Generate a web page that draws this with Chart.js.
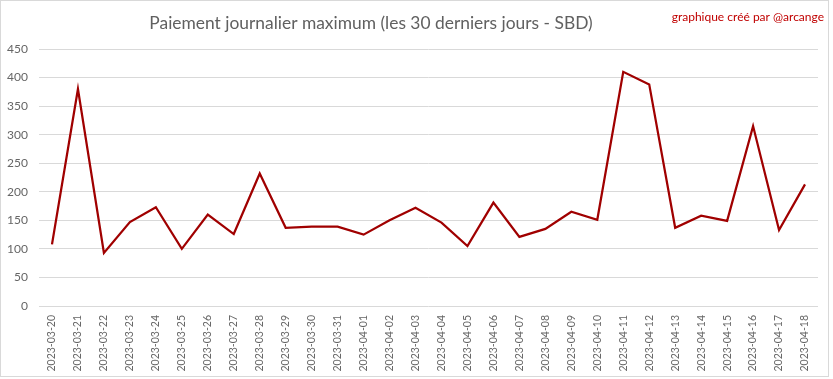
<!DOCTYPE html>
<html>
<head>
<meta charset="utf-8">
<script src="https://cdn.jsdelivr.net/npm/chart.js@4/dist/chart.umd.min.js"></script>
<style>
html,body{margin:0;padding:0;background:#fff;}
#wrap{width:833px;height:379px;position:relative;}
</style>
</head>
<body>
<div id="wrap"><canvas id="c" width="833" height="379"></canvas></div>
<script>
const categories = ["2023-03-20","2023-03-21","2023-03-22","2023-03-23","2023-03-24","2023-03-25","2023-03-26","2023-03-27","2023-03-28","2023-03-29","2023-03-30","2023-03-31","2023-04-01","2023-04-02","2023-04-03","2023-04-04","2023-04-05","2023-04-06","2023-04-07","2023-04-08","2023-04-09","2023-04-10","2023-04-11","2023-04-12","2023-04-13","2023-04-14","2023-04-15","2023-04-16","2023-04-17","2023-04-18"];
const maxPayout = [108,380,93,147,173,100,160,126,232,137,139,139,125,150,172,146,105,181,121,135,165,151,410,388,137,158,149,315,133,213];
const yTicks = [0,50,100,150,200,250,300,350,400,450];
const titleText = "Paiement journalier maximum (les 30 derniers jours - SBD)";
const creditText = "graphique créé par @arcange";

const FONT = "Lato, 'Open Sans', sans-serif";

const decor = {
  id: 'decor',
  beforeDraw(chart) {
    const ctx = chart.ctx;
    ctx.save();
    ctx.fillStyle = '#ffffff';
    ctx.fillRect(0, 0, chart.width, chart.height);
    ctx.restore();
  },
  afterDraw(chart) {
    const ctx = chart.ctx;
    ctx.save();
    ctx.strokeStyle = '#d9d9d9';
    ctx.lineWidth = 1;
    ctx.strokeRect(0.5, 0.5, 828, 376);
    ctx.fillStyle = '#606060';
    ctx.font = "17.4px " + FONT;
    ctx.textAlign = 'center';
    ctx.textBaseline = 'middle';
    ctx.fillText(titleText, 371, 23);
    ctx.fillStyle = '#c00000';
    ctx.font = "12px " + FONT;
    ctx.textAlign = 'right';
    ctx.fillText(creditText, 824, 17);
    ctx.restore();
  }
};

new Chart(document.getElementById('c'), {
  type: 'line',
  data: {
    labels: categories,
    datasets: [{
      data: maxPayout,
      borderColor: '#a00000',
      borderWidth: 2.25,
      pointRadius: 0,
      tension: 0,
      fill: false
    }]
  },
  options: {
    responsive: false,
    animation: false,
    layout: { padding: { left: 0, right: 15, top: 49, bottom: 0 } },
    plugins: { legend: { display: false }, tooltip: { enabled: false }, title: { display: false } },
    scales: {
      x: {
        offset: true,
        grid: { display: false, drawTicks: false },
        border: { display: false },
        ticks: {
          autoSkip: false, minRotation: 90, maxRotation: 90, padding: 9,
          color: '#666666', font: { family: FONT, size: 10.5 }
        },
        afterFit(s) { s.height = 73; }
      },
      y: {
        min: 0, max: 450,
        afterBuildTicks(s) { s.ticks = yTicks.map(v => ({ value: v })); },
        grid: { color: '#d9d9d9', lineWidth: 1, drawTicks: false },
        border: { display: false },
        ticks: { padding: 11, color: '#666666', font: { family: FONT, size: 12 } },
        afterFit(s) { s.width = 39; }
      }
    }
  },
  plugins: [decor]
});
</script>
</body>
</html>
